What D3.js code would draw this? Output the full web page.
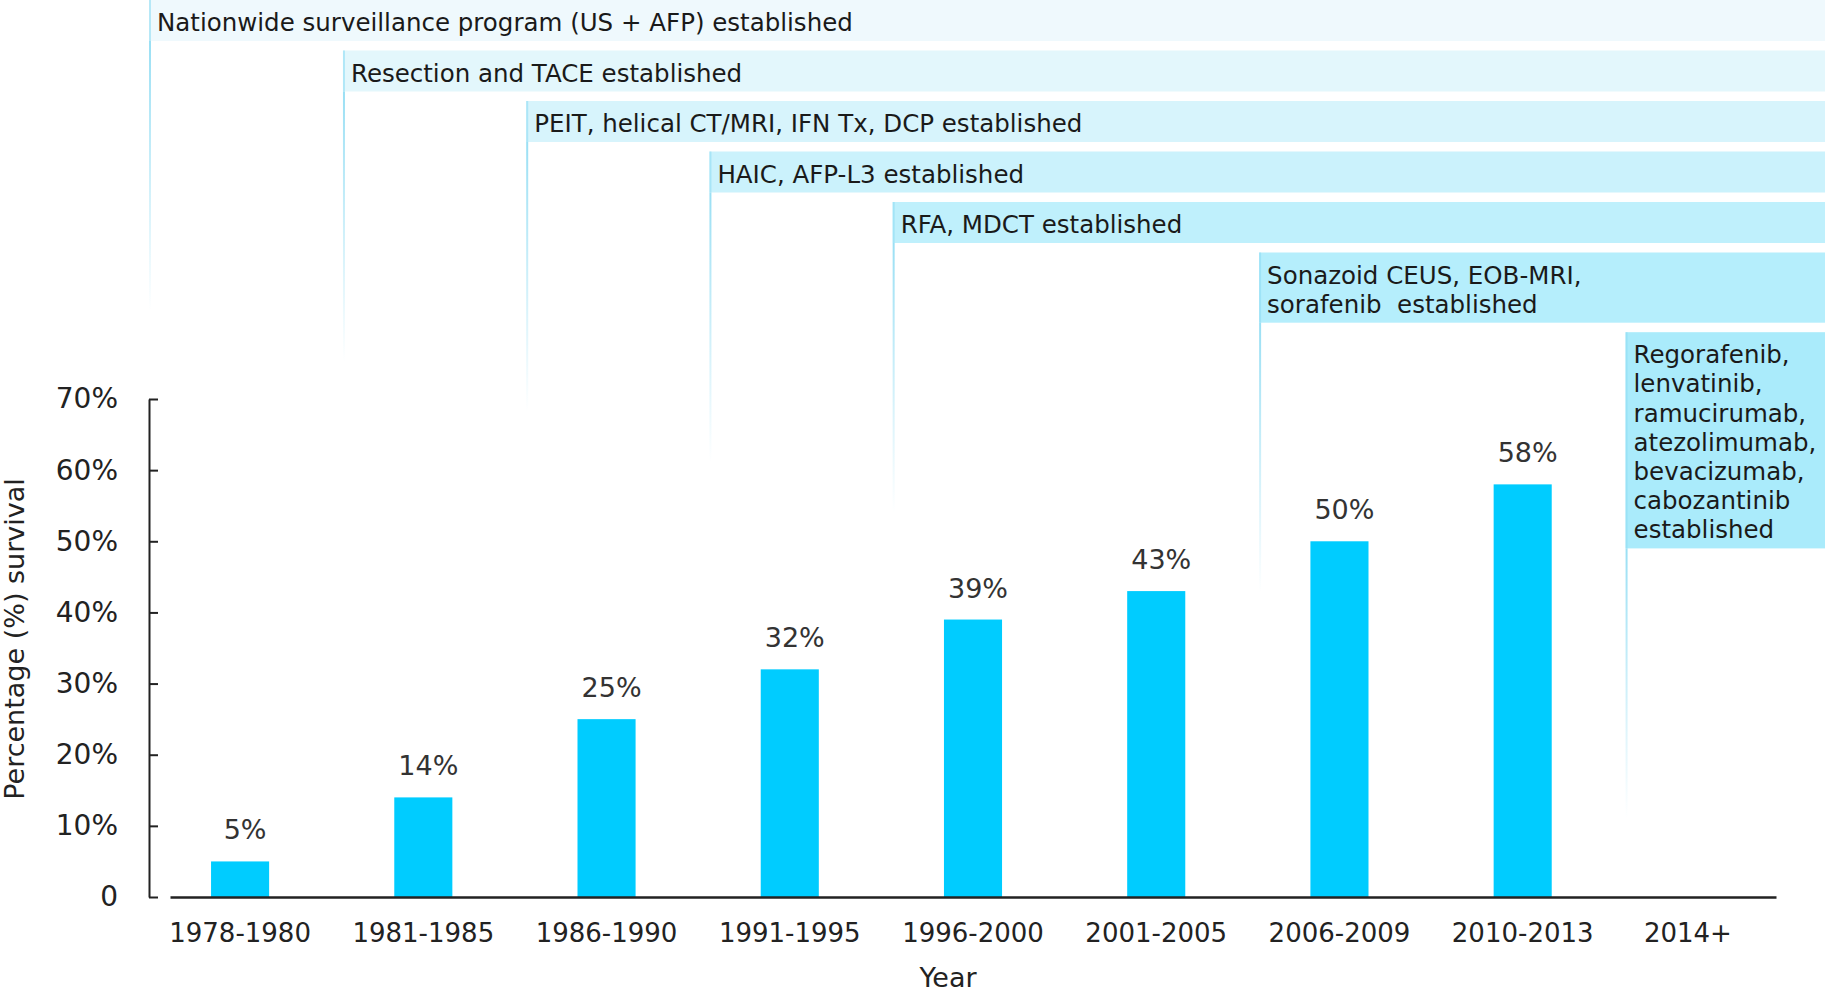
<!DOCTYPE html>
<html>
<head>
<meta charset="utf-8">
<script src="https://cdn.jsdelivr.net/npm/d3@7"></script>
<style>
    body { margin: 0; background: #fff; }
    svg text { font-family: "DejaVu Sans", sans-serif; }
</style>
</head>
<body>
<div id="chart"></div>
<script>
// survival by diagnosis period
const periods = ["1978-1980", "1981-1985", "1986-1990", "1991-1995", "1996-2000",
                 "2001-2005", "2006-2009", "2010-2013", "2014+"];
const survival = [5, 14, 25, 32, 39, 43, 50, 58];
const yTicks = [0, 10, 20, 30, 40, 50, 60, 70];

// milestone boxes: text lines and the period they follow (-1 = start of chart)
const milestoneLines = [
    ["Nationwide surveillance program (US + AFP) established"],
    ["Resection and TACE established"],
    ["PEIT, helical CT/MRI, IFN Tx, DCP established"],
    ["HAIC, AFP-L3 established"],
    ["RFA, MDCT established"],
    ["Sonazoid CEUS, EOB-MRI,", "sorafenib  established"],
    ["Regorafenib,", "lenvatinib,", "ramucirumab,", "atezolimumab,", "bevacizumab,", "cabozantinib", "established"]
];
const milestoneAfter = [-1, 0, 1, 2, 3, 5, 7];
const milestoneFill = ["#eff9fd", "#e3f7fc", "#d7f4fc", "#cbf2fc", "#bff0fc", "#b5eefc", "#aaebfb"];

const width = 1839, height = 995;
const yAxisX = 149;
const boxRight = 1825;
const lineH = 29.2, boxPad = 41, boxGap = 9.5;

const svg = d3.select("#chart").append("svg")
    .attr("width", width)
    .attr("height", height);

const x = d3.scaleBand()
    .domain(periods)
    .range([170, 1776])
    .paddingInner(0.683)
    .paddingOuter(0.224);

const y = d3.scaleLinear()
    .domain([0, 70])
    .range([897, 399]);

// gradient for the fading guide lines
const defs = svg.append("defs");
const grad = defs.append("linearGradient")
    .attr("id", "fade")
    .attr("x1", 0).attr("y1", 0).attr("x2", 0).attr("y2", 1);
grad.append("stop").attr("offset", "0%").attr("stop-color", "#8fdcf3").attr("stop-opacity", 0.9);
grad.append("stop").attr("offset", "100%").attr("stop-color", "#8fdcf3").attr("stop-opacity", 0);

// build milestone layout by stacking the boxes
let stackY = 0;
const milestones = milestoneLines.map((lines, i) => {
    const h = boxPad + (lines.length - 1) * lineH;
    const x0 = milestoneAfter[i] < 0 ? yAxisX : x(periods[milestoneAfter[i]]) + x.step() * 0.72;
    const m = { lines, x0, y0: stackY, h, fill: milestoneFill[i] };
    stackY += h + boxGap;
    return m;
});

const mg = svg.append("g").selectAll("g")
    .data(milestones)
    .enter()
    .append("g");

mg.append("rect")
    .attr("x", d => d.x0)
    .attr("y", d => d.y0)
    .attr("width", d => boxRight - d.x0)
    .attr("height", d => d.h)
    .attr("fill", d => d.fill);

mg.append("rect")
    .attr("x", d => d.x0)
    .attr("y", d => d.y0)
    .attr("width", 2)
    .attr("height", d => d.h)
    .attr("fill", "#8fdcf3")
    .attr("opacity", 0.6);

mg.append("rect")
    .attr("x", d => d.x0)
    .attr("y", d => d.y0 + d.h)
    .attr("width", 2)
    .attr("height", 270)
    .attr("fill", "url(#fade)");

mg.each(function(d) {
    const t = d3.select(this).append("text")
        .attr("x", d.x0 + 8)
        .attr("y", d.y0 + 31)
        .attr("fill", "#1a1a1a")
        .style("font-size", "24.5px")
        .style("white-space", "pre");
    d.lines.forEach((line, j) => {
        t.append("tspan")
            .attr("x", d.x0 + 8)
            .attr("dy", j === 0 ? 0 : lineH)
            .text(line);
    });
});

// bars
svg.append("g")
    .selectAll("rect")
    .data(survival)
    .enter()
    .append("rect")
    .attr("x", (d, i) => x(periods[i]))
    .attr("y", d => y(d))
    .attr("width", x.bandwidth())
    .attr("height", d => y(0) - y(d))
    .attr("fill", "#00ccff");

// value labels
svg.append("g")
    .selectAll("text")
    .data(survival)
    .enter()
    .append("text")
    .attr("x", (d, i) => x(periods[i]) + x.bandwidth() / 2)
    .attr("y", d => y(d) - 22)
    .attr("dx", 5)
    .attr("text-anchor", "middle")
    .attr("fill", "#333")
    .style("font-size", "27px")
    .text(d => d + "%");

// y axis
const yAxis = svg.append("g")
    .attr("transform", `translate(${yAxisX},0)`)
    .call(d3.axisLeft(y)
        .tickValues(yTicks)
        .tickFormat(d => d === 0 ? "0" : d + "%")
        .tickSizeInner(-9)
        .tickSizeOuter(0)
        .tickPadding(31));
yAxis.selectAll("text").style("font-size", "28px").attr("fill", "#222");
yAxis.selectAll("line, path").attr("stroke", "#222").attr("stroke-width", 2);

// x axis
const xAxis = svg.append("g")
    .attr("transform", `translate(0,${y(0)})`)
    .call(d3.axisBottom(x).tickSize(0).tickPadding(26.5));
xAxis.selectAll("text").style("font-size", "26px").attr("fill", "#222");
xAxis.select("path").attr("stroke", "#222").attr("stroke-width", 2.5);
// last label sits a little left of its slot in the original
xAxis.selectAll(".tick text").filter(d => d === "2014+").attr("dx", -18);

// axis titles
svg.append("text")
    .attr("x", 948)
    .attr("y", 987)
    .attr("text-anchor", "middle")
    .attr("fill", "#222")
    .style("font-size", "27px")
    .text("Year");

svg.append("text")
    .attr("transform", "translate(24,639) rotate(-90)")
    .attr("text-anchor", "middle")
    .attr("fill", "#222")
    .style("font-size", "27px")
    .text("Percentage (%) survival");
</script>
</body>
</html>
